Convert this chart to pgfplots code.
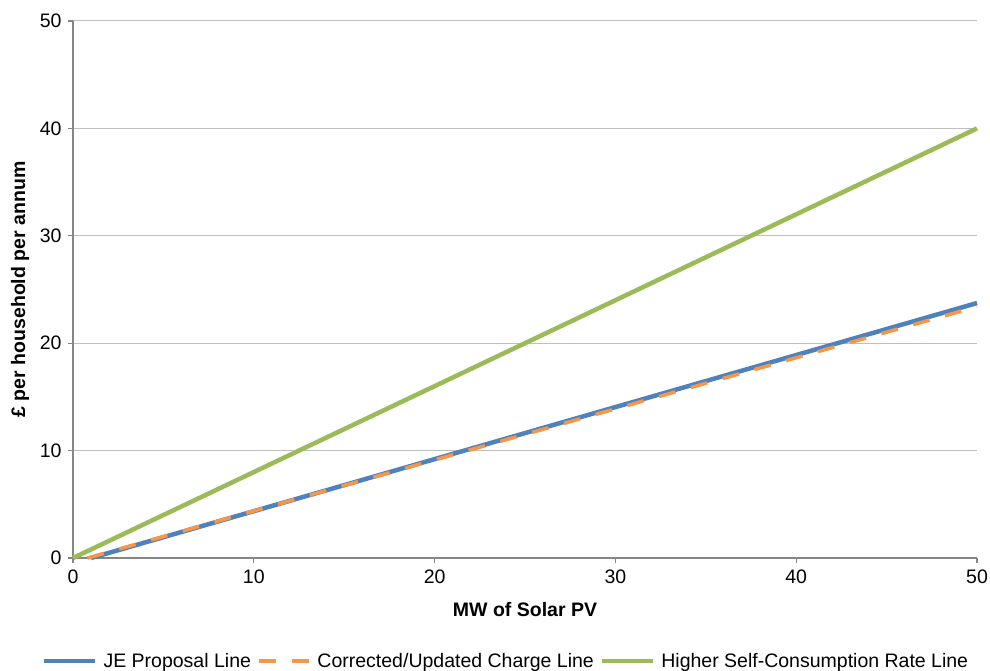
\documentclass[border=0pt]{standalone}
\usepackage{fontspec}
\setmainfont{Liberation Sans}
\usepackage{pgfplots}
\pgfplotsset{compat=1.18}
\definecolor{jeblue}{HTML}{4F81BD}
\definecolor{corange}{HTML}{F79646}
\definecolor{hgreen}{HTML}{9BBB59}
\definecolor{gridgray}{HTML}{BFBFBF}
\definecolor{axgray}{HTML}{868686}
\begin{document}
\begin{tikzpicture}
\path[use as bounding box] (0pt,0pt) rectangle (990pt,671pt);
\begin{axis}[
  at={(73pt,113pt)}, anchor=south west,
  scale only axis, width=904pt, height=537pt,
  xmin=0, xmax=50, ymin=0, ymax=50,
  xtick={0,10,...,50}, ytick={0,10,...,50},
  axis x line*=bottom, axis y line*=left,
  axis line style={draw=axgray, line width=1.2pt, -},
  ymajorgrids, grid style={draw=gridgray, line width=1pt},
  major tick length=5pt,
  tick align=outside,
  tick style={draw=axgray, line width=1.2pt},
  /pgf/number format/assume math mode=true,
  tick label style={font=\fontsize{19.5}{23}\selectfont, text=black},
  xticklabel style={yshift=-3pt},
  yticklabel style={xshift=-3pt},
  xlabel={MW of Solar PV},
  ylabel={£ per household per annum},
  label style={font=\bfseries\fontsize{19.5}{23}\selectfont},
  x label style={at={([yshift=-52pt]axis description cs:0.5,0)}, anchor=center},
  y label style={at={([xshift=-53pt]axis description cs:0,0.5)}, anchor=center, rotate=0},
  legend columns=3,
  legend style={at={(axis description cs:0.478,-0.1918)}, anchor=center, draw=none, fill=none,
    inner sep=0pt, column sep=6pt, font=\fontsize{19.5}{23}\selectfont,
    nodes={inner sep=0pt}},
  legend image code/.code={\draw[#1] (0pt,0pt) -- (51pt,0pt);},
  clip=false,
]
\addplot[jeblue, line width=4.5pt] coordinates {(1,0) (50,23.74)};
\addlegendentry{JE Proposal Line}
\addplot[corange, line width=3.5pt, dash pattern=on 17pt off 16pt] coordinates {(0.8,0) (50,23.4)};
\addlegendentry{Corrected/Updated Charge Line}
\addplot[hgreen, line width=4.5pt] coordinates {(0,0) (50,40)};
\addlegendentry{Higher Self-Consumption Rate Line}
\end{axis}
\end{tikzpicture}
\end{document}
